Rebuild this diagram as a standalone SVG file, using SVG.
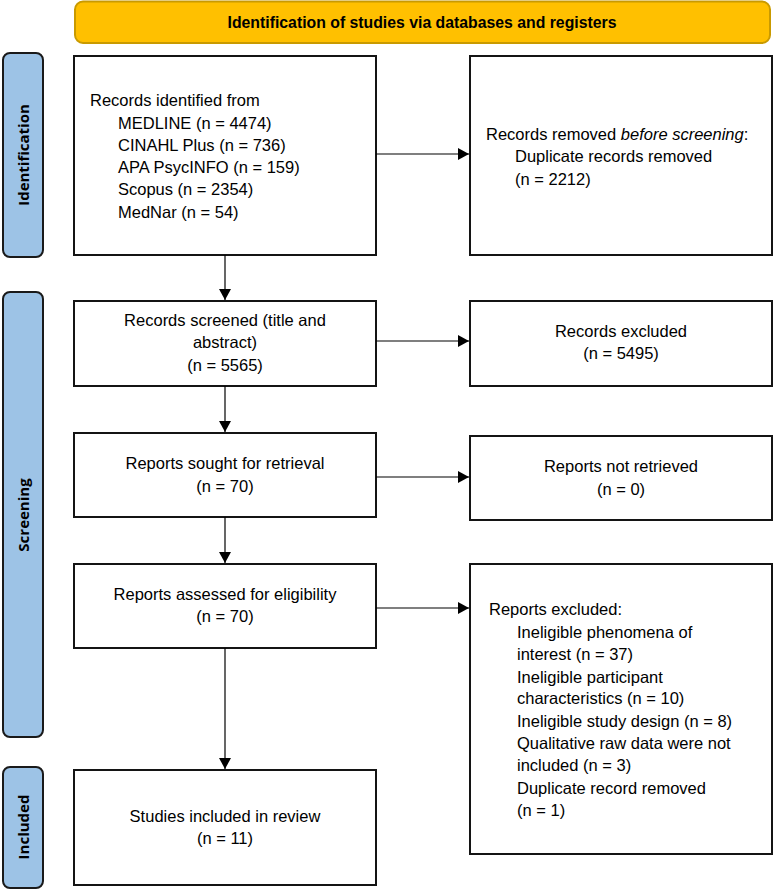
<svg xmlns="http://www.w3.org/2000/svg" width="773" height="890" viewBox="0 0 773 890">
<style>
.box{fill:#fff;stroke:#141414;stroke-width:2}
.bar{fill:#9DC3E6;stroke:#1a1a1a;stroke-width:2}
.t{font-family:"Liberation Sans",Arial,sans-serif;font-size:16.5px;fill:#000}
.c{text-anchor:middle}
.side{font-family:"Open Sans","Liberation Sans",sans-serif;font-weight:bold;font-size:15px;fill:#000;text-anchor:middle;dominant-baseline:central}
.ln{stroke:#000;stroke-width:1.2;fill:none}
</style>
<defs>
<marker id="ah" markerWidth="12" markerHeight="12" refX="11" refY="6" orient="auto" markerUnits="userSpaceOnUse">
<path d="M0,0 L11,6 L0,12 Z" fill="#000"/>
</marker>
</defs>
<rect width="773" height="890" fill="#fff"/>
<g id="banner">
<rect x="75" y="1.5" width="695" height="41.5" rx="8" fill="#FFC000" stroke="#C99A00" stroke-width="2"/>
<text x="422" y="27.5" font-family="'Liberation Sans',Arial,sans-serif" font-weight="bold" font-size="15.8" text-anchor="middle">Identification of studies via databases and registers</text>
</g>
<g id="side-identification">
<rect class="bar" x="3" y="53" width="40" height="204" rx="7"/>
<text class="side" transform="translate(23,155) rotate(-90)">Identification</text>
</g>
<g id="side-screening">
<rect class="bar" x="3" y="292" width="40" height="445" rx="7"/>
<text class="side" transform="translate(23,515) rotate(-90)">Screening</text>
</g>
<g id="side-included">
<rect class="bar" x="3" y="767" width="40" height="121" rx="7"/>
<text class="side" transform="translate(23,827) rotate(-90)">Included</text>
</g>
<g id="records-identified">
<rect class="box" x="74" y="56" width="302" height="199"/>
<text class="t" x="90" y="106">Records identified from</text>
<text class="t" x="118" y="128.5">MEDLINE (n = 4474)</text>
<text class="t" x="118" y="151">CINAHL Plus (n = 736)</text>
<text class="t" x="118" y="173">APA PsycINFO (n = 159)</text>
<text class="t" x="118" y="195">Scopus (n = 2354)</text>
<text class="t" x="118" y="217.5">MedNar (n = 54)</text>
</g>
<g id="records-removed">
<rect class="box" x="470" y="56" width="302" height="199"/>
<text class="t" x="486" y="140">Records removed <tspan font-style="italic">before screening</tspan>:</text>
<text class="t" x="515" y="162">Duplicate records removed</text>
<text class="t" x="515" y="184.5">(n = 2212)</text>
</g>
<g id="records-screened">
<rect class="box" x="74" y="301" width="302" height="85"/>
<text class="t c" x="225" y="326">Records screened (title and</text>
<text class="t c" x="225" y="348">abstract)</text>
<text class="t c" x="225" y="370.5">(n = 5565)</text>
</g>
<g id="records-excluded">
<rect class="box" x="470" y="301" width="302" height="85"/>
<text class="t c" x="621" y="337">Records excluded</text>
<text class="t c" x="621" y="359">(n = 5495)</text>
</g>
<g id="reports-sought">
<rect class="box" x="74" y="433" width="302" height="84"/>
<text class="t c" x="225" y="469">Reports sought for retrieval</text>
<text class="t c" x="225" y="491.5">(n = 70)</text>
</g>
<g id="reports-not-retrieved">
<rect class="box" x="470" y="436" width="302" height="84"/>
<text class="t c" x="621" y="472">Reports not retrieved</text>
<text class="t c" x="621" y="495">(n = 0)</text>
</g>
<g id="reports-assessed">
<rect class="box" x="74" y="564" width="302" height="84"/>
<text class="t c" x="225" y="600">Reports assessed for eligibility</text>
<text class="t c" x="225" y="622">(n = 70)</text>
</g>
<g id="reports-excluded">
<rect class="box" x="470" y="564" width="302" height="290"/>
<text class="t" x="489" y="615">Reports excluded:</text>
<text class="t" x="517" y="637.5">Ineligible phenomena of</text>
<text class="t" x="517" y="660">interest (n = 37)</text>
<text class="t" x="517" y="682.5">Ineligible participant</text>
<text class="t" x="517" y="704">characteristics (n = 10)</text>
<text class="t" x="517" y="727">Ineligible study design (n = 8)</text>
<text class="t" x="517" y="749">Qualitative raw data were not</text>
<text class="t" x="517" y="771">included (n = 3)</text>
<text class="t" x="517" y="793.5">Duplicate record removed</text>
<text class="t" x="517" y="816">(n = 1)</text>
</g>
<g id="studies-included">
<rect class="box" x="74" y="770" width="302" height="115"/>
<text class="t c" x="225" y="822">Studies included in review</text>
<text class="t c" x="225" y="844">(n = 11)</text>
</g>
<g id="connectors">
<line class="ln" x1="376" y1="154" x2="469" y2="154" marker-end="url(#ah)"/>
<line class="ln" x1="225" y1="255" x2="225" y2="300" marker-end="url(#ah)"/>
<line class="ln" x1="376" y1="341" x2="469" y2="341" marker-end="url(#ah)"/>
<line class="ln" x1="225" y1="386" x2="225" y2="432" marker-end="url(#ah)"/>
<line class="ln" x1="376" y1="477" x2="469" y2="477" marker-end="url(#ah)"/>
<line class="ln" x1="225" y1="517" x2="225" y2="563" marker-end="url(#ah)"/>
<line class="ln" x1="376" y1="608" x2="469" y2="608" marker-end="url(#ah)"/>
<line class="ln" x1="225" y1="648" x2="225" y2="769" marker-end="url(#ah)"/>
</g>
</svg>
